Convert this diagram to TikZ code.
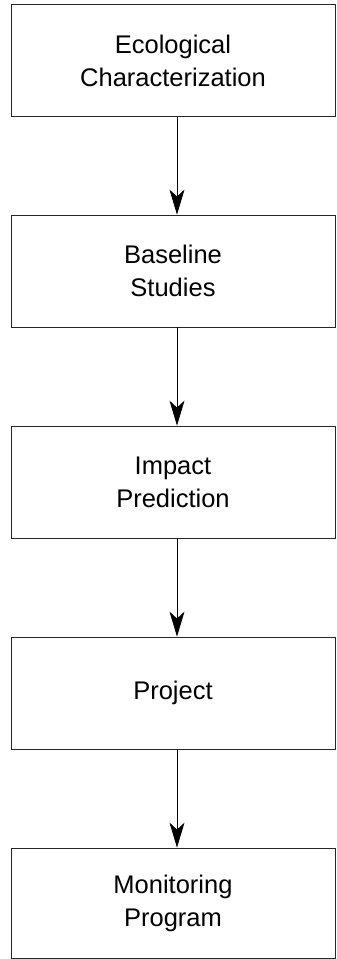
\documentclass[tikz,border=0pt]{standalone}
\usepackage{fontspec}
\setmainfont{Liberation Sans}
\usetikzlibrary{arrows.meta}
\tikzset{
  stage/.style={draw=black!85, line width=0.8pt, rectangle, minimum width=324pt,
    minimum height=112pt, align=center, inner sep=0pt,
    font=\fontsize{25.5}{33}\selectfont}
}
\begin{document}
\begin{tikzpicture}[x=1pt,y=1pt]
      \useasboundingbox (0,0) rectangle (337,-959);
      \draw
        (173,-60.5) node[stage] (ecol){Ecological\\Characterization}
        (173,-271) node[stage] (base){Baseline\\Studies}
        (173,-482) node[stage] (impact){Impact\\Prediction}
        (173,-693) node[stage] (proj){Project}
        (173,-903) node[stage, minimum height=110pt] (monit){Monitoring\\Program};
      \begin{scope}[line width=0.7pt, -{Stealth[length=25pt, width=15pt, inset=7pt]}]
        \draw ([xshift=4pt]ecol.south) to ([xshift=4pt]base.north);
        \draw ([xshift=4pt]base.south) to ([xshift=4pt]impact.north);
        \draw ([xshift=4pt]impact.south) to ([xshift=4pt]proj.north);
        \draw ([xshift=4pt]proj.south) to ([xshift=4pt]monit.north);
      \end{scope}
    \end{tikzpicture}
\end{document}
